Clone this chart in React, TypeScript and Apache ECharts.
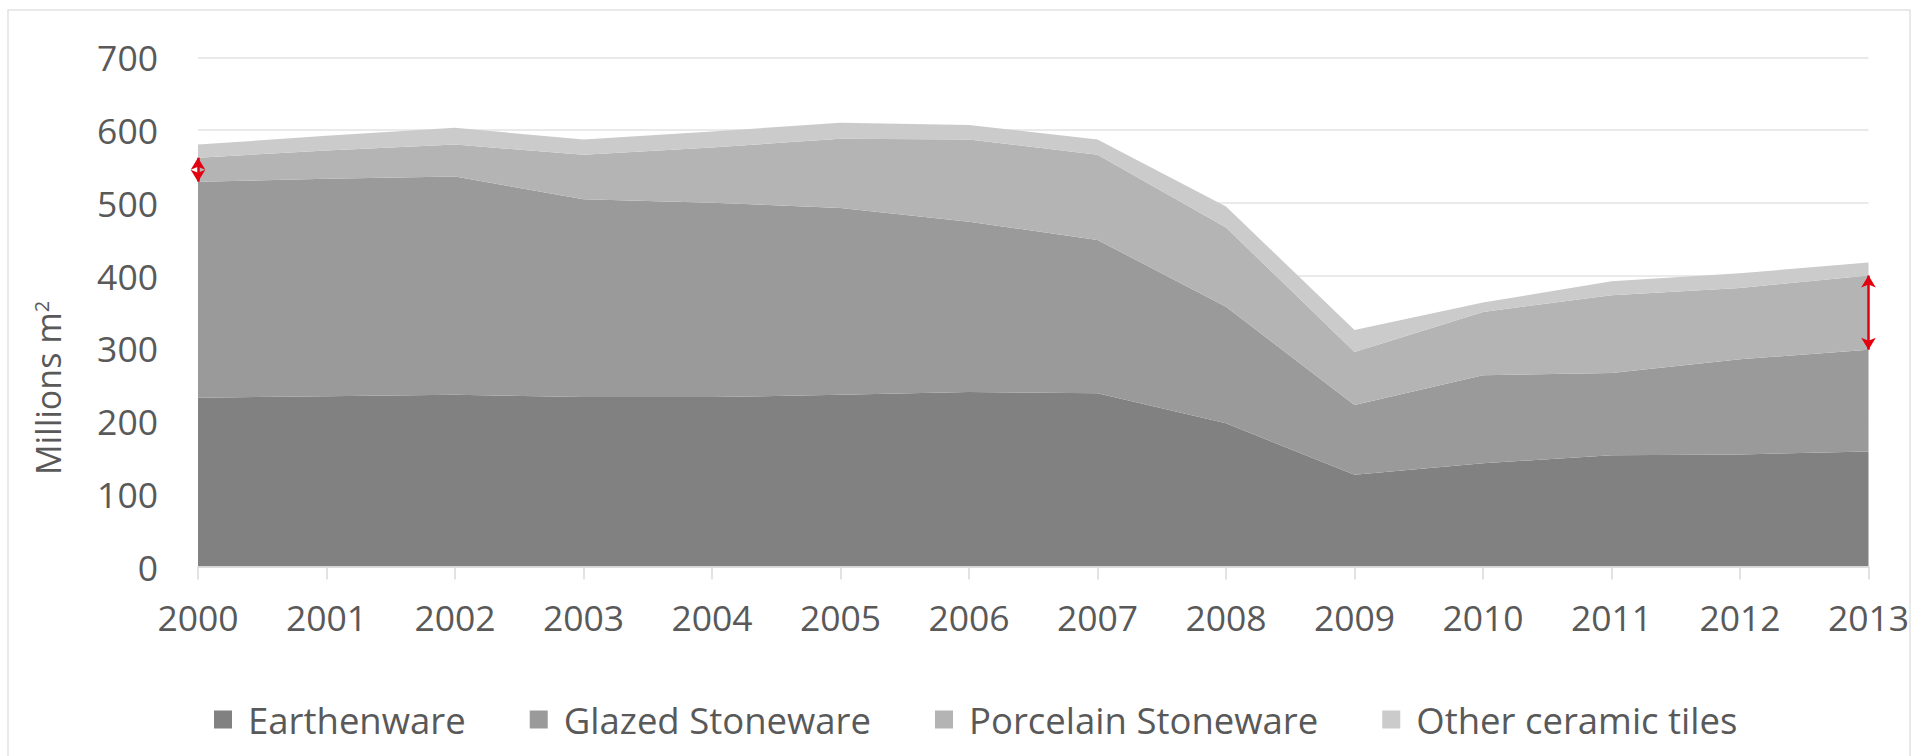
import React, { useEffect, useRef } from "react";
import * as echarts from "echarts";

const years = ["2000","2001","2002","2003","2004","2005","2006","2007","2008","2009","2010","2011","2012","2013"];
const earthenware = [232, 234, 236, 233, 233, 236, 240, 238, 197, 126, 142, 153, 154, 158];
const glazedStoneware = [297, 299, 300, 272, 267, 257, 234, 211, 160, 96, 121, 113, 131, 140];
const porcelainStoneware = [33, 39, 44, 61, 76, 95, 113, 117, 109, 73, 87, 107, 98, 102];
const otherCeramicTiles = [18, 20, 23, 21, 22, 22, 20, 21, 29, 30, 13, 19, 20, 18];
const seriesNames = ["Earthenware", "Glazed Stoneware", "Porcelain Stoneware", "Other ceramic tiles"];
const seriesColors = ["#818181", "#9a9a9a", "#b4b4b4", "#cbcbcb"];
const yTicks = { min: 0, max: 700, interval: 100 };
// annotation arrows: [x index, from value, to value]
const arrows = [
  [0.03, 529, 562],
  [12.9, 298, 400],
];

const FONT = "'Open Sans', sans-serif";

export default function App() {
  const ref = useRef<HTMLDivElement>(null);
  useEffect(() => {
    if (!ref.current) return;
    const chart = echarts.init(ref.current, undefined, { renderer: "svg" });
    const values = [earthenware, glazedStoneware, porcelainStoneware, otherCeramicTiles];
    const series: any[] = values.map((d, i) => ({
      name: seriesNames[i],
      type: "line",
      stack: "total",
      data: d,
      symbol: "none",
      lineStyle: { width: 0 },
      areaStyle: { color: seriesColors[i], opacity: 1 },
      itemStyle: { color: seriesColors[i] },
      z: 2,
    }));
    series.push({
      name: "arrows",
      type: "line",
      data: [],
      symbol: "none",
      clip: false,
      lineStyle: { opacity: 0 },
      z: 5,
      markLine: {
        silent: true,
        symbol: ["arrow", "arrow"],
        symbolSize: [11, 12],
        label: { show: false },
        lineStyle: { color: "#e3000f", width: 2.5, type: "solid" },
        data: arrows.map((a) => [
          { coord: [a[0], a[1]] },
          { coord: [a[0], a[2]] },
        ]),
      },
    });
    chart.setOption({
      animation: false,
      backgroundColor: "#ffffff",
      grid: { left: 198, right: 50.5, top: 57.3, bottom: 189.5 },
      legend: {
        data: seriesNames,
        left: 209,
        top: 696,
        itemWidth: 18,
        itemHeight: 18,
        itemGap: 64,
        icon: "rect",
        textStyle: { fontFamily: FONT, fontSize: 36.5, color: "#595959", padding: [0, 0, 0, 11] },
      },
      xAxis: {
        type: "category",
        data: years,
        boundaryGap: false,
        axisLine: { lineStyle: { color: "#d9d9d9", width: 1.5 } },
        axisTick: { show: true, length: 13, lineStyle: { color: "#d9d9d9", width: 1.5 } },
        axisLabel: { fontFamily: FONT, fontSize: 35.5, color: "#595959", margin: 32 },
        z: 3,
      },
      yAxis: {
        type: "value",
        min: yTicks.min,
        max: yTicks.max,
        interval: yTicks.interval,
        axisLine: { show: false },
        axisTick: { show: false },
        splitLine: { lineStyle: { color: "#e3e3e3", width: 1.5 } },
        axisLabel: { fontFamily: FONT, fontSize: 35.5, color: "#595959", margin: 40 },
      },
      graphic: [
        {
          type: "rect",
          shape: { x: 8, y: 10, width: 1902, height: 760 },
          style: { fill: "none", stroke: "#e2e2e2", lineWidth: 1.5 },
          silent: true,
          z: 0,
        },
        {
          type: "text",
          x: 48,
          y: 388,
          rotation: Math.PI / 2,
          style: {
            text: "Millions m{sup|2}",
            fontFamily: FONT,
            fontSize: 34,
            fill: "#595959",
            align: "center",
            verticalAlign: "middle",
            rich: {
              sup: { fontFamily: FONT, fontSize: 20, fill: "#595959", verticalAlign: "top", padding: [0, 0, 14, 0] },
            },
          },
        },
      ],
      series,
    });
    return () => chart.dispose();
  }, []);
  return (
    <div
      ref={ref}
      style={{ position: "fixed", left: 0, top: 0, width: 1919, height: 756 }}
    />
  );
}
